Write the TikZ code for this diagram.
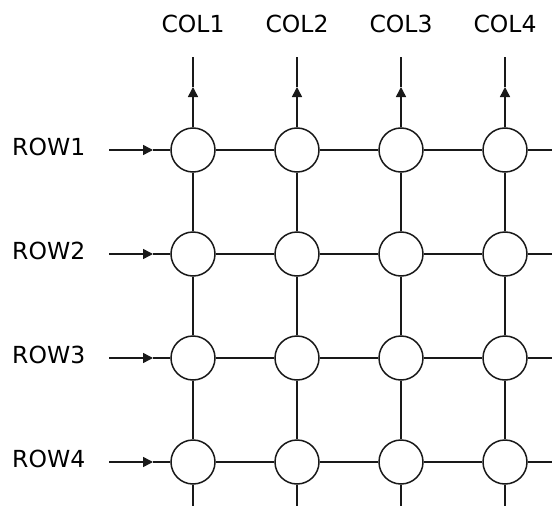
\documentclass[tikz,border=0pt]{standalone}
\usepackage{fontspec}
\setmainfont{DejaVu Sans}
\usetikzlibrary{arrows.meta}
\begin{document}
\begin{tikzpicture}[x=1pt,y=-1pt,
  wire/.style={line width=1.5pt,draw=black!90},
  xnode/.style={circle,draw=black!90,line width=1.5pt,fill=white,minimum size=44pt,inner sep=0pt},
  lbl/.style={inner sep=0pt,font=\fontsize{23.5}{28}\selectfont,text=black},
  tip/.style={-{Triangle[length=10pt,width=10pt]}}]
\useasboundingbox (0,0) rectangle (552,506);
% free ends and arrow tips
\foreach \j/\x in {1/193,2/297,3/401,4/505}{
  \coordinate (ct\j) at (\x,56.5);
  \coordinate (ca\j) at (\x,87);
  \coordinate (cb\j) at (\x,506);
}
\foreach \i/\y in {1/150,2/254,3/358,4/462}{
  \coordinate (rs\i) at (109,\y);
  \coordinate (ra\i) at (153,\y);
  \coordinate (re\i) at (552,\y);
}
% crossing nodes
\foreach \i/\y in {1/150,2/254,3/358,4/462}{
  \foreach \j/\x in {1/193,2/297,3/401,4/505}{
    \node[xnode] (c\i\j) at (\x,\y) {};
  }
}
% column wires with arrows
\foreach \j in {1,2,3,4}{
  \draw[wire,tip] (c1\j) -- (ca\j);
  \draw[wire] (ca\j) -- (ct\j);
  \draw[wire] (c1\j) -- (c2\j);
  \draw[wire] (c2\j) -- (c3\j);
  \draw[wire] (c3\j) -- (c4\j);
  \draw[wire] (c4\j) -- (cb\j);
}
% row wires with arrows
\foreach \i in {1,2,3,4}{
  \draw[wire,tip] (rs\i) -- (ra\i);
  \draw[wire] (ra\i) -- (c\i1);
  \draw[wire] (c\i1) -- (c\i2);
  \draw[wire] (c\i2) -- (c\i3);
  \draw[wire] (c\i3) -- (c\i4);
  \draw[wire] (c\i4) -- (re\i);
}
% labels
\node[lbl,anchor=base] (col1) at (193,32.7) {COL1};
\node[lbl,anchor=base] (col2) at (297,32.7) {COL2};
\node[lbl,anchor=base] (col3) at (401,32.7) {COL3};
\node[lbl,anchor=base] (col4) at (505,32.7) {COL4};
\node[lbl,anchor=base west] (row1) at (12,155.7) {ROW1};
\node[lbl,anchor=base west] (row2) at (12,259.7) {ROW2};
\node[lbl,anchor=base west] (row3) at (12,363.7) {ROW3};
\node[lbl,anchor=base west] (row4) at (12,467.7) {ROW4};
\end{tikzpicture}
\end{document}
